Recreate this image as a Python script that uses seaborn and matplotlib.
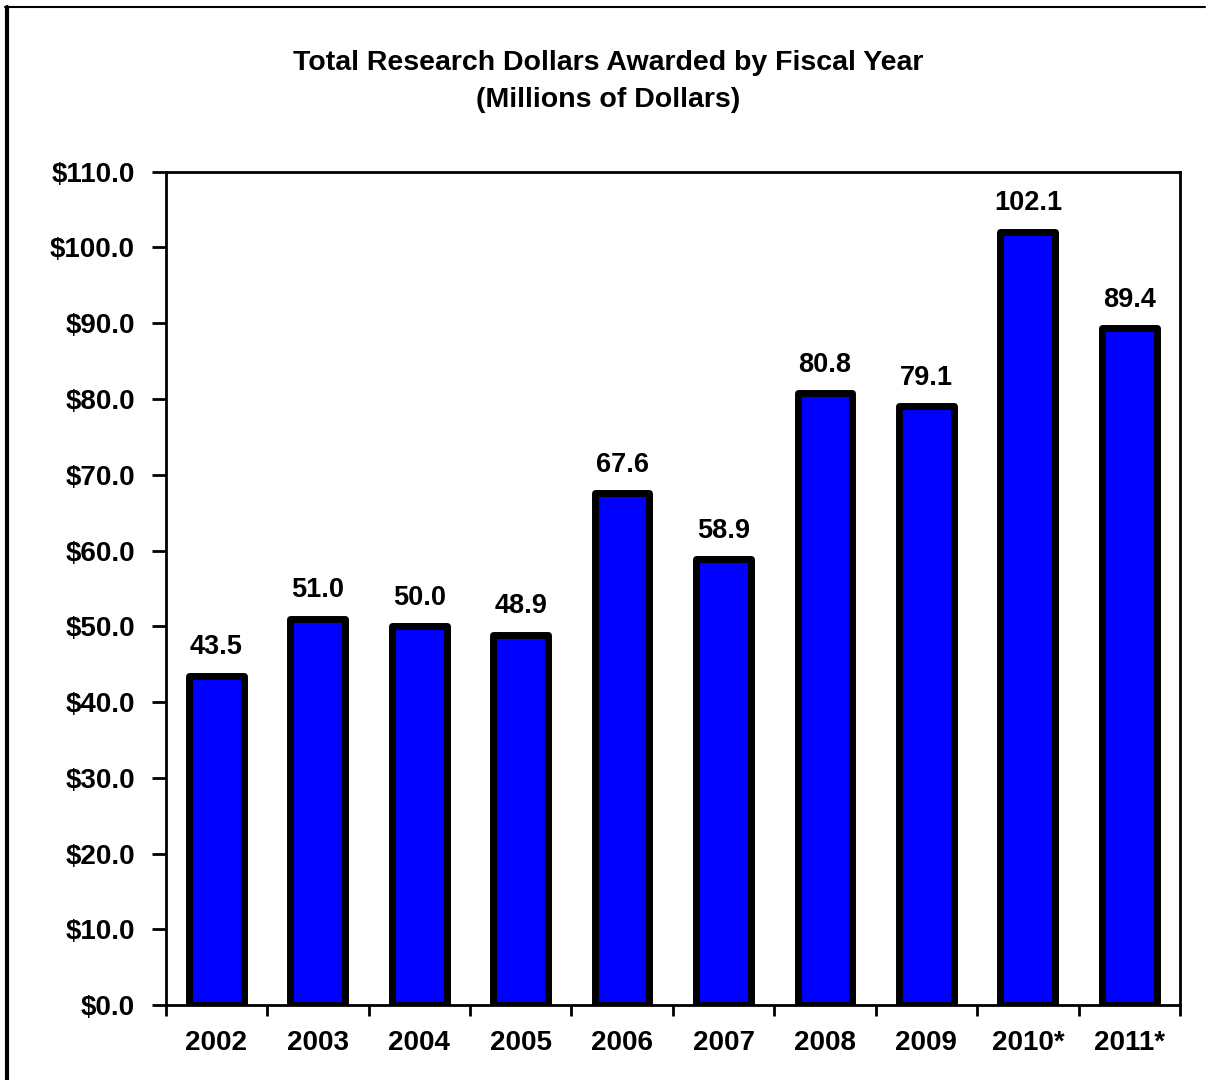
import matplotlib
matplotlib.use("Agg")
import matplotlib.pyplot as plt
from matplotlib.lines import Line2D
import numpy as np
import pandas as pd
import seaborn as sns

years = ["2002", "2003", "2004", "2005", "2006", "2007", "2008", "2009", "2010*", "2011*"]
dollars = [43.5, 51.0, 50.0, 48.9, 67.6, 58.9, 80.8, 79.1, 102.1, 89.4]
y_ticks = [0, 10, 20, 30, 40, 50, 60, 70, 80, 90, 100, 110]

sns.set_theme(style="white", context="notebook")
plt.rcParams["font.family"] = ["Liberation Sans", "DejaVu Sans"]
plt.rcParams["font.weight"] = "bold"
for key in ["text.color", "axes.labelcolor", "xtick.color", "ytick.color"]:
    plt.rcParams[key] = "black"

df = pd.DataFrame({"year": years, "dollars": dollars})

fig = plt.figure(figsize=(12.09, 10.8), dpi=100)
ax = fig.add_axes([0.137, 0.0694, 0.839, 0.7716])

sns.barplot(data=df, x="year", y="dollars", order=years, color="#0000FF",
            edgecolor="black", linewidth=5, width=0.54, saturation=1, ax=ax)
for p in ax.patches:
    p.set_joinstyle("round")

for i, v in enumerate(dollars):
    ax.annotate(f"{v:.1f}", xy=(i, v), xytext=(0, 11), textcoords="offset points",
                ha="center", va="bottom", fontsize=19.5, fontweight="bold")

ax.set_ylim(0, 110)
ax.set_xlim(-0.5, len(years) - 0.5)
ax.set_yticks(y_ticks)
ax.set_yticklabels([f"${t:.1f}" for t in y_ticks], fontsize=20, fontweight="bold")
ax.set_xticks(range(len(years)))
ax.set_xticklabels(years, fontsize=20, fontweight="bold")
ax.set_xticks(np.arange(-0.5, len(years), 1), minor=True)
ax.tick_params(axis="x", which="major", length=0, pad=18)
ax.tick_params(axis="x", which="minor", length=8, width=2, direction="out", bottom=True)
ax.tick_params(axis="y", length=10, width=2, direction="out", pad=12, left=True)
ax.set_xlabel("")
ax.set_ylabel("")
for s in ax.spines.values():
    s.set_visible(True)
    s.set_linewidth(2)
    s.set_color("black")

fig.text(0.503, 0.942, "Total Research Dollars Awarded by Fiscal Year", ha="center", va="center",
         fontsize=20.5, fontweight="bold")
fig.text(0.503, 0.907, "(Millions of Dollars)", ha="center", va="center",
         fontsize=20.5, fontweight="bold")

# outer frame lines
fig.add_artist(Line2D([0.0055, 0.0055], [0.0, 0.9935], transform=fig.transFigure, color="black", linewidth=3))
fig.add_artist(Line2D([0.0045, 0.997], [0.9935, 0.9935], transform=fig.transFigure, color="black", linewidth=1.5))

fig.savefig("out.png", dpi=100)
